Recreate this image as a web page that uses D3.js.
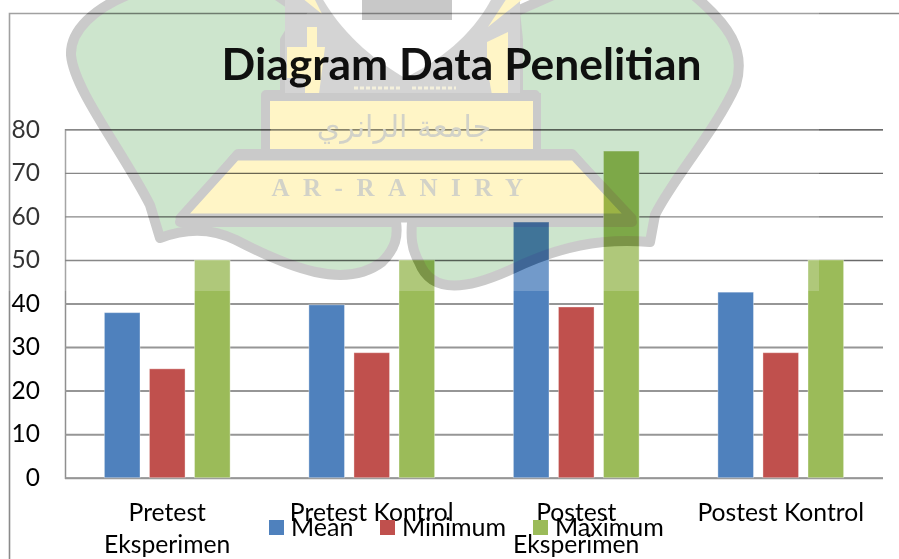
<!DOCTYPE html>
<html>
<head>
<meta charset="utf-8">
<style>
  html, body { margin: 0; padding: 0; background: #fff; }
  svg { display: block; }
  text { font-family: Lato, "Open Sans", sans-serif; fill: #000; }
</style>
<script src="https://cdn.jsdelivr.net/npm/d3@7/dist/d3.min.js"></script>
</head>
<body>
<svg id="chart" width="899" height="559"></svg>
<script>
const categories = ['Pretest Eksperimen', 'Pretest Kontrol', 'Postest Eksperimen', 'Postest Kontrol'];
const seriesNames = ['Mean', 'Minimum', 'Maximum'];
const meanValues = [37.9, 39.7, 58.7, 42.6];
const minimumValues = [25, 28.7, 39.2, 28.7];
const maximumValues = [50, 50, 75, 50];
const yTicks = [0, 10, 20, 30, 40, 50, 60, 70, 80];
const seriesColors = ['#4f81bd', '#c0504d', '#9bbb59'];

const svg = d3.select('#chart');
const plotLeft = 65, plotRight = 883, plotTop = 129.3, plotBottom = 477.7;

const x0 = d3.scaleBand().domain(categories).range([plotLeft, plotRight]);
const x1 = d3.scaleBand().domain(seriesNames).range([39.4, 165.1]).paddingInner(0.21);
const y = d3.scaleLinear().domain([0, 80]).range([plotBottom, plotTop]);
const color = d3.scaleOrdinal().domain(seriesNames).range(seriesColors);

const seriesValues = { Mean: meanValues, Minimum: minimumValues, Maximum: maximumValues };

// watermark outlines, used for the crest and to cut the wash
const lobes = [
  'M130,-6C95,8 70,30 71,55C74,90 122,150 150,205L160,238C186,228 212,228 236,240C290,268 345,290 382,262C396,248 398,236 396,222H180L238,154H266V95H285V40L302,12L275,-6Z',
  'M690,-8C730,25 746,50 736,85C716,130 672,180 655,215L650,242C600,238 560,246 510,270C470,288 432,296 419,262C411,248 411,236 412,222H632L572,154H535V95H518V40L515,12L560,-8Z'
];
const basePath = 'M180,218L236,156H574L632,218Z';

// outer frame, runs off the picture on the right and bottom
svg.append('path').attr('d', 'M9.5,559V13.5H899').attr('fill', 'none')
  .attr('stroke', '#8a8a8a').attr('stroke-width', 1.6);

// gridlines and tick labels
const yAxis = svg.append('g').attr('transform', `translate(${plotLeft},0)`)
  .call(d3.axisLeft(y).tickValues(yTicks).tickSize(-(plotRight - plotLeft)).tickPadding(25));
yAxis.select('.domain').attr('stroke', '#8f8f8f').attr('stroke-width', 1.5);
yAxis.selectAll('.tick line')
  .attr('stroke', d => y(d) < 291 ? '#6a6a6a' : '#969696')
  .attr('stroke-width', d => y(d) < 291 ? 1.4 : 2);
yAxis.selectAll('.tick text').attr('font-size', 24.5).attr('fill', '#000');

// bars
svg.append('g').selectAll('g')
  .data(seriesNames)
  .enter().append('g')
  .attr('fill', d => color(d))
  .selectAll('rect')
  .data(name => categories.map((c, i) => ({ name, c, value: seriesValues[name][i] })))
  .enter().append('rect')
  .attr('x', d => x0(d.c) + x1(d.name))
  .attr('width', x1.bandwidth())
  .attr('y', d => y(d.value))
  .attr('height', d => plotBottom - y(d.value))
  .attr('stroke', '#fff').attr('stroke-opacity', 0.35).attr('stroke-width', 1);

// the watermark image washes out what lies above this line, except under the crest
const mask = svg.append('defs').append('mask').attr('id', 'wash')
  .attr('maskUnits', 'userSpaceOnUse').attr('x', 0).attr('y', 0).attr('width', 899).attr('height', 559);
mask.append('rect').attr('width', 899).attr('height', 559).attr('fill', '#fff');
mask.selectAll('path').data(lobes.concat(basePath)).enter().append('path')
  .attr('d', d => d).attr('fill', '#000').attr('stroke', '#000').attr('stroke-width', 10);
svg.append('rect').attr('x', 0).attr('y', 0).attr('width', 819).attr('height', 291)
  .attr('fill', '#fff').attr('opacity', 0.2).attr('mask', 'url(#wash)');

// watermark crest
const crest = svg.append('g').style('mix-blend-mode', 'multiply');
const crestGrey = '#cacaca';
crest.selectAll('path.lobe').data(lobes).enter().append('path')
  .attr('class', 'lobe').attr('d', d => d)
  .attr('fill', '#cde5cd').attr('stroke', crestGrey).attr('stroke-width', 10).attr('stroke-linejoin', 'round');

// centre: grey backing, white arch, towers, building, base
crest.append('path').attr('d', 'M285,-2H520V100H285Z').attr('fill', '#d4d4d4');
crest.append('path').attr('d', 'M322,-2C345,38 378,62 405,78C440,60 472,36 492,-2Z').attr('fill', '#fff');
crest.append('path').attr('d', 'M362,-2H452V20H362Z').attr('fill', '#c8c8c8');
crest.selectAll('path.yellow')
  .data([
    'M287,47H307V27H317V47H325L319,94H305V78H287Z',
    'M487,42L508,32V95H492L487,67Z',
    'M302,-2H314L322,14Z',
    'M488,27L507,-2H524Z'
  ])
  .enter().append('path').attr('class', 'yellow').attr('d', d => d).attr('fill', '#fff5c6');
crest.append('path').attr('d', 'M266,97H537V153H266Z').attr('fill', '#fff5c6').attr('stroke', crestGrey).attr('stroke-width', 8);
crest.append('path').attr('d', basePath).attr('fill', '#fff5c6').attr('stroke', crestGrey).attr('stroke-width', 9).attr('stroke-linejoin', 'round');
svg.append('path').attr('d', 'M354,88H400M412,88H456').attr('stroke', '#f4f0dc').attr('stroke-width', 3).attr('stroke-dasharray', '4 2');
svg.append('text').attr('x', 404).attr('y', 196).attr('text-anchor', 'middle')
  .attr('font-size', 25).style('font-family', '"Liberation Serif", serif').style('font-weight', 'bold')
  .style('letter-spacing', '13.5px').style('fill', '#d2d2c8').text('AR-RANIRY');
svg.append('text').attr('x', 404).attr('y', 137).attr('text-anchor', 'middle')
  .attr('font-size', 30).style('font-family', '"DejaVu Sans", sans-serif').style('fill', '#d2d2c8')
  .text('جامعة الرانري');

// title sits over the crest and picks up a little of its tint
svg.append('text').attr('x', 461.5).attr('y', 80).attr('text-anchor', 'middle')
  .attr('font-size', 44.4).attr('font-weight', 700).style('fill-opacity', 0.93)
  .text('Diagram Data Penelitian');

// category labels
const labelLines = { 'Pretest Eksperimen': ['Pretest', 'Eksperimen'], 'Pretest Kontrol': ['Pretest Kontrol'],
  'Postest Eksperimen': ['Postest', 'Eksperimen'], 'Postest Kontrol': ['Postest Kontrol'] };
const labels = svg.append('g').selectAll('text').data(categories).enter().append('text')
  .attr('x', d => x0(d) + x0.bandwidth() / 2)
  .attr('text-anchor', 'middle').attr('font-size', 24.7);
labels.selectAll('tspan').data(d => labelLines[d]).enter().append('tspan')
  .attr('x', function() { return d3.select(this.parentNode).attr('x'); })
  .attr('y', (d, i) => 521 + i * 32)
  .text(d => d);

// legend
const legendX = d3.scaleOrdinal().domain(seriesNames).range([269, 380, 533]);
const legend = svg.append('g').selectAll('g').data(seriesNames).enter().append('g')
  .attr('transform', d => `translate(${legendX(d)},520)`);
legend.append('rect').attr('width', 15).attr('height', 15).attr('fill', d => color(d));
legend.append('text').attr('x', 22).attr('y', 15.5).attr('font-size', 25).text(d => d);
</script>
</body>
</html>
